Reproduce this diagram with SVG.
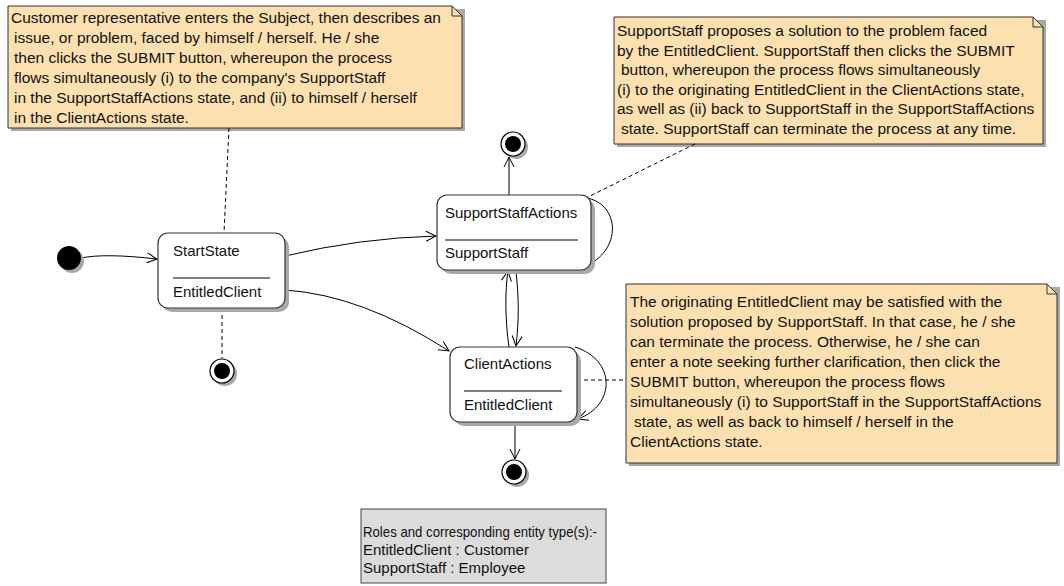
<svg xmlns="http://www.w3.org/2000/svg" width="1064" height="586" viewBox="0 0 1064 586">
  <defs>
    <marker id="open" viewBox="0 0 12 12" refX="11" refY="6" markerWidth="12" markerHeight="12" markerUnits="userSpaceOnUse" orient="auto">
      <path d="M1,1 L11,6 L1,11" fill="none" stroke="#000" stroke-width="1"/>
    </marker>
  </defs>
  <style>
    text { font-family: "Liberation Sans", Arial, sans-serif; font-size: 15px; fill: #111; }
    .note text { font-size: 15.5px; }
    .note-body { fill: #fde0b0; stroke: #333; stroke-width: 1; }
    .fold { fill: none; stroke: #333; stroke-width: 1; }
    .shadow { fill: #a8a8a8; }
    .state { fill: #fff; stroke: #333; stroke-width: 1.2; }
    .sep { stroke: #000; stroke-width: 1; }
    .legend { fill: #dcdcdc; stroke: #444; stroke-width: 1; }
    .edge { fill: none; stroke: #000; stroke-width: 1; marker-end: url(#open); }
    .anchor { fill: none; stroke: #000; stroke-width: 1; stroke-dasharray: 4 3; }
    .final-ring { fill: #fff; stroke: #000; stroke-width: 1.2; }
    .dot { fill: #000; }
  </style>

  <!-- notes -->
  <g id="note-start" class="note">
    <path class="shadow" d="M11,9 H465 V131 H11 Z"/>
    <path class="note-body" d="M8,6 H452 L462,16 V128 H8 Z"/>
    <path class="fold" d="M452,6 V16 H462"/>
    <text x="11" y="23">Customer representative enters the Subject, then describes an</text>
    <text x="14" y="43">issue, or problem, faced by himself / herself. He / she</text>
    <text x="14" y="63">then clicks the SUBMIT button, whereupon the process</text>
    <text x="14" y="83">flows simultaneously (i) to the company's SupportStaff</text>
    <text x="14" y="103">in the SupportStaffActions state, and (ii) to himself / herself</text>
    <text x="14" y="123">in the ClientActions state.</text>
  </g>

  <g id="note-support" class="note">
    <path class="shadow" d="M617,20 H1046 V147 H617 Z"/>
    <path class="note-body" d="M614,17 H1033 L1043,27 V144 H614 Z"/>
    <path class="fold" d="M1033,17 V27 H1043"/>
    <text x="617" y="36">SupportStaff proposes a solution to the problem faced</text>
    <text x="617" y="55.6">by the EntitledClient. SupportStaff then clicks the SUBMIT</text>
    <text x="621" y="75.2">button, whereupon the process flows simultaneously</text>
    <text x="617" y="94.8">(i) to the originating EntitledClient in the ClientActions state,</text>
    <text x="617" y="114.4">as well as (ii) back to SupportStaff in the SupportStaffActions</text>
    <text x="621" y="134">state. SupportStaff can terminate the process at any time.</text>
  </g>

  <g id="note-client" class="note">
    <path class="shadow" d="M629,287 H1060 V466 H629 Z"/>
    <path class="note-body" d="M626,284 H1047 L1057,294 V463 H626 Z"/>
    <path class="fold" d="M1047,284 V294 H1057"/>
    <text x="630" y="307">The originating EntitledClient may be satisfied with the</text>
    <text x="630" y="327">solution proposed by SupportStaff. In that case, he / she</text>
    <text x="630" y="347">can terminate the process. Otherwise, he / she can</text>
    <text x="630" y="367">enter a note seeking further clarification, then click the</text>
    <text x="630" y="387">SUBMIT button, whereupon the process flows</text>
    <text x="630" y="407">simultaneously (i) to SupportStaff in the SupportStaffActions</text>
    <text x="634" y="427">state, as well as back to himself / herself in the</text>
    <text x="630" y="447">ClientActions state.</text>
  </g>

  <g id="legend">
    <rect class="legend" x="361" y="509" width="245" height="74"/>
    <text x="363" y="537" textLength="234" lengthAdjust="spacingAndGlyphs">Roles and corresponding entity type(s):-</text>
    <text x="363" y="555">EntitledClient : Customer</text>
    <text x="363" y="573">SupportStaff : Employee</text>
  </g>

  <!-- connectors -->
  <g id="connectors">
    <path class="anchor" d="M229,128 L224,233"/>
    <path class="anchor" d="M222,308 L222,358"/>
    <path class="anchor" d="M695,144 L588,197"/>
    <path class="anchor" d="M577,380 L626,380"/>
    <path class="edge" d="M81,258 Q105,253 157,259"/>
    <path class="edge" d="M285,256 Q360,238 436,236"/>
    <path class="edge" d="M285,290 Q362,295 449,351"/>
    <path class="edge" d="M509,195 L509,157"/>
    <path class="edge" d="M587,198 C622,205 622,255 580,268"/>
    <path class="edge" d="M509,347 C505,320 505,290 508,271"/>
    <path class="edge" d="M516,271 C519,300 519,320 516,346"/>
    <path class="edge" d="M575,347 C616,360 616,405 578,419"/>
    <path class="edge" d="M515,422 L515,459"/>
  </g>

  <!-- pseudo states -->
  <g id="initial">
    <circle class="shadow" cx="72" cy="261" r="12"/>
    <circle class="dot" cx="69" cy="258" r="12"/>
  </g>
  <g id="final-start">
    <circle class="shadow" cx="225" cy="374" r="12"/>
    <circle class="final-ring" cx="222" cy="371" r="12"/>
    <circle class="dot" cx="222" cy="371" r="8"/>
  </g>
  <g id="final-support">
    <circle class="shadow" cx="516" cy="147" r="12"/>
    <circle class="final-ring" cx="513" cy="144" r="12"/>
    <circle class="dot" cx="513" cy="144" r="8"/>
  </g>
  <g id="final-client">
    <circle class="shadow" cx="517" cy="475" r="12"/>
    <circle class="final-ring" cx="514" cy="472" r="12"/>
    <circle class="dot" cx="514" cy="472" r="8"/>
  </g>

  <!-- states -->
  <g id="StartState">
    <rect class="shadow" x="162" y="237" width="127" height="75" rx="10"/>
    <rect class="state" x="158" y="233" width="127" height="75" rx="10"/>
    <text x="173" y="256">StartState</text>
    <line class="sep" x1="173" y1="278" x2="270" y2="278"/>
    <text x="173" y="297">EntitledClient</text>
  </g>
  <g id="SupportStaffActions">
    <rect class="shadow" x="441" y="199" width="154" height="75" rx="10"/>
    <rect class="state" x="437" y="195" width="154" height="75" rx="10"/>
    <text x="445" y="218">SupportStaffActions</text>
    <line class="sep" x1="445" y1="240" x2="578" y2="240"/>
    <text x="445" y="258">SupportStaff</text>
  </g>
  <g id="ClientActions">
    <rect class="shadow" x="454" y="351" width="127" height="75" rx="10"/>
    <rect class="state" x="450" y="347" width="127" height="75" rx="10"/>
    <text x="464" y="369">ClientActions</text>
    <line class="sep" x1="464" y1="391" x2="562" y2="391"/>
    <text x="464" y="410">EntitledClient</text>
  </g>
</svg>
